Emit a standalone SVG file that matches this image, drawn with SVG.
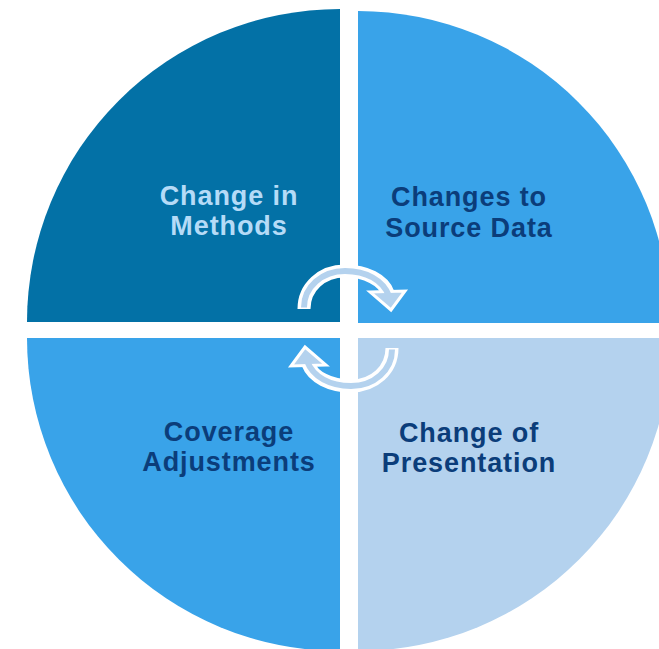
<svg xmlns="http://www.w3.org/2000/svg" width="659" height="649" viewBox="0 0 659 649">
  <style>
    .lbl { font-family: "Liberation Sans", Arial, sans-serif; font-weight: bold; font-size: 27px; letter-spacing: 0.9px; text-anchor: middle; }
    .light { fill: #B5DBF7; }
    .dark { fill: #0B3D7A; }
    .shaftOut { fill: none; stroke: #FFFFFF; stroke-width: 13; }
    .shaftIn { fill: none; stroke: #B4D2EE; stroke-width: 6; }
    .head { fill: #B4D2EE; stroke: #FFFFFF; stroke-width: 3; stroke-linejoin: miter; }
  </style>
  <rect width="659" height="649" fill="#FFFFFF"/>
  <g id="node-methods">
    <path d="M 340 322 L 27 322 A 313 313 0 0 1 340 9 Z" fill="#0371A6"/>
    <text class="lbl light" x="229" y="205">Change in</text>
    <text class="lbl light" x="229" y="235">Methods</text>
  </g>
  <g id="node-source">
    <path d="M 358 323 L 358 11 A 312 312 0 0 1 670 323 Z" fill="#39A3E9"/>
    <text class="lbl dark" x="469" y="206">Changes to</text>
    <text class="lbl dark" x="469" y="237">Source Data</text>
  </g>
  <g id="node-coverage">
    <path d="M 340 338 L 340 651 A 313 313 0 0 1 27 338 Z" fill="#39A3E9"/>
    <text class="lbl dark" x="229" y="441">Coverage</text>
    <text class="lbl dark" x="229" y="471">Adjustments</text>
  </g>
  <g id="node-presentation">
    <path d="M 358 338 L 671 338 A 313 313 0 0 1 358 651 Z" fill="#B4D2EE"/>
    <text class="lbl dark" x="469" y="442">Change of</text>
    <text class="lbl dark" x="469" y="472">Presentation</text>
  </g>
  <g id="connectors">
    <g id="arrow-top">
      <path class="shaftOut" d="M 304 309 C 304 287 322 271 345 271 C 366 271 383 280 388 293"/>
      <polygon class="head" points="370,292 405,291 391,310"/>
      <path class="shaftIn" d="M 304 307.5 C 304 287 322 271 345 271 C 366 271 383 280 389 296"/>
    </g>
    <g id="arrow-bottom" transform="rotate(180 348 328.5)">
      <path class="shaftOut" d="M 304 309 C 304 287 322 271 345 271 C 366 271 383 280 388 293"/>
      <polygon class="head" points="370,292 405,291 391,310"/>
      <path class="shaftIn" d="M 304 307.5 C 304 287 322 271 345 271 C 366 271 383 280 389 296"/>
    </g>
  </g>
</svg>
